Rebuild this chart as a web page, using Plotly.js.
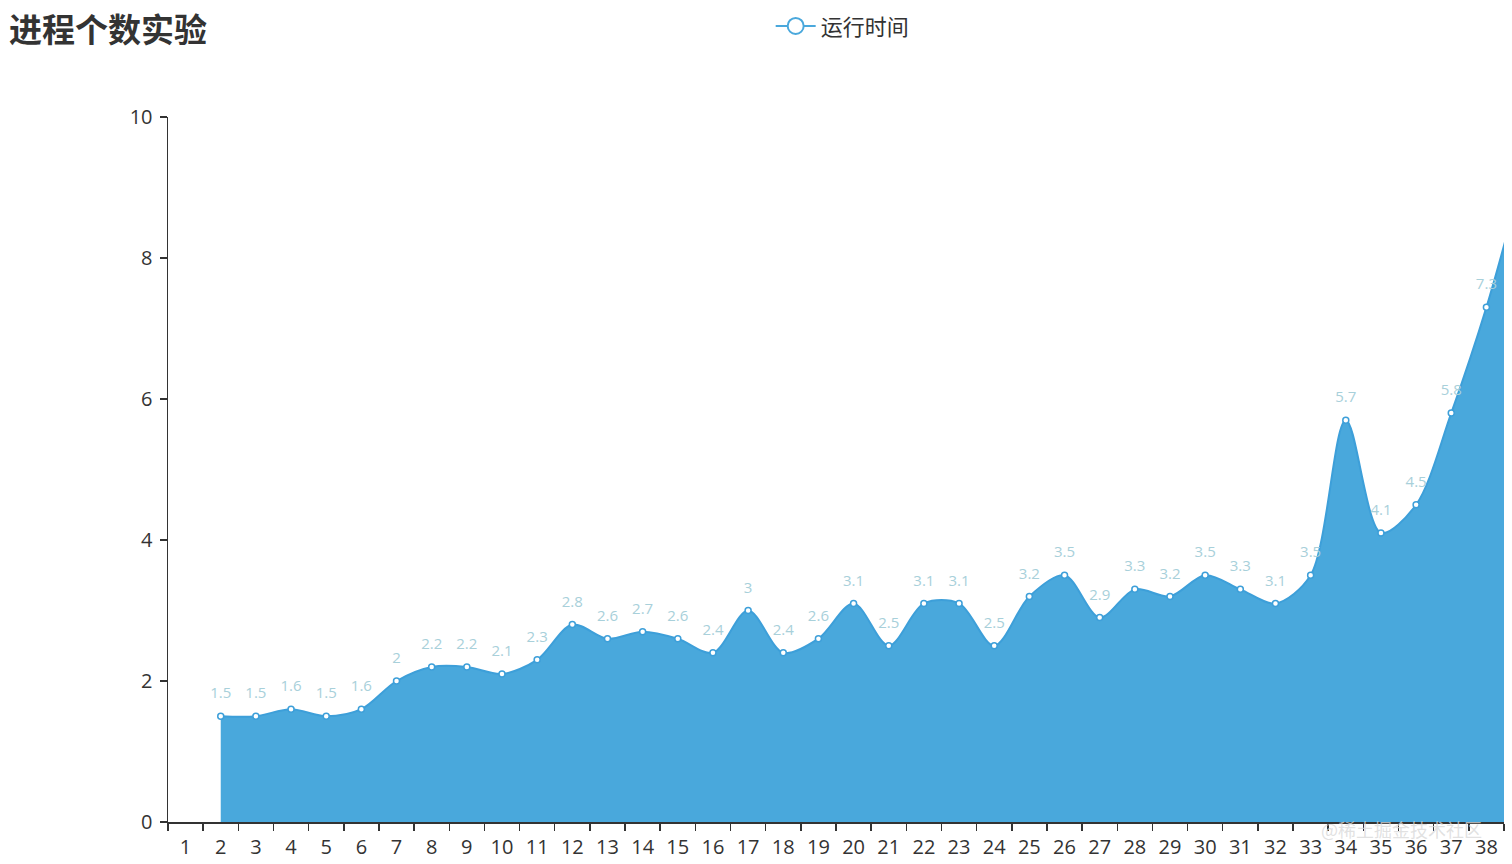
<!DOCTYPE html>
<html>
<head>
<meta charset="utf-8">
<script src="https://cdn.plot.ly/plotly-3.0.1.min.js"></script>
<style>html,body{margin:0;padding:0;background:#fff;overflow:hidden}#chart{width:1512px;height:864px}</style>
</head>
<body>
<div id="chart"></div>
<script>
// Category labels on the x axis (the last one lies beyond the cropped edge)
const categories = ["1","2","3","4","5","6","7","8","9","10","11","12","13","14","15","16","17","18","19","20","21","22","23","24","25","26","27","28","29","30","31","32","33","34","35","36","37","38","39"];
// Process counts that have a measured value
const processCounts = ["2","3","4","5","6","7","8","9","10","11","12","13","14","15","16","17","18","19","20","21","22","23","24","25","26","27","28","29","30","31","32","33","34","35","36","37","38","39"];
// 运行时间 values
const runTimes = [1.5,1.5,1.6,1.5,1.6,2,2.2,2.2,2.1,2.3,2.8,2.6,2.7,2.6,2.4,3,2.4,2.6,3.1,2.5,3.1,3.1,2.5,3.2,3.5,2.9,3.3,3.2,3.5,3.3,3.1,3.5,5.7,4.1,4.5,5.8,7.3,9.1];
const yTicks = [0,2,4,6,8,10];

const numFont = '"Open Sans","Noto Sans CJK SC",sans-serif';
const cjkFont = '"Noto Sans CJK SC",sans-serif';
const blue = '#3d9fd9';

const areaTrace = {
  type: 'scatter',
  mode: 'lines+markers',
  name: '运行时间',
  showlegend: false,
  x: processCounts,
  y: runTimes,
  line: {shape: 'spline', smoothing: 0.9, color: blue, width: 2},
  marker: {symbol: 'circle', size: 6, color: '#ffffff', line: {color: blue, width: 1.5}},
  fill: 'tozeroy',
  fillcolor: 'rgb(73,168,220)',
  cliponaxis: true,
  hoverinfo: 'x+y'
};

// value labels, lifted above each point by an invisible larger marker
const labelTrace = {
  type: 'scatter',
  mode: 'markers+text',
  showlegend: false,
  x: processCounts,
  y: runTimes,
  text: runTimes.map(String),
  textposition: 'top center',
  textfont: {family: numFont, size: 15, color: '#a8d0da'},
  marker: {size: 21, color: 'rgba(0,0,0,0)', line: {width: 0}},
  cliponaxis: true,
  hoverinfo: 'skip'
};

// legend-only entry (line with hollow circle, as in the reference)
const legendTrace = {
  type: 'scatter',
  mode: 'lines+markers',
  name: '运行时间',
  x: [null],
  y: [null],
  line: {color: '#4aa8dc', width: 2},
  marker: {symbol: 'circle', size: 16, color: '#ffffff', line: {color: '#4aa8dc', width: 2}},
  showlegend: true,
  hoverinfo: 'skip'
};

const layout = {
  width: 1512,
  height: 864,
  margin: {l: 168, r: 8, t: 117, b: 42, autoexpand: false},
  paper_bgcolor: '#ffffff',
  plot_bgcolor: '#ffffff',
  title: {
    text: '<b>进程个数实验</b>',
    x: 0.006, xanchor: 'left', xref: 'container',
    y: 0.965, yanchor: 'middle', yref: 'container',
    font: {family: cjkFont, size: 33, color: '#333333'}
  },
  showlegend: true,
  legend: {
    orientation: 'h',
    x: 0.505, xanchor: 'center', xref: 'paper',
    y: 0.994, yanchor: 'top', yref: 'container',
    font: {family: cjkFont, size: 22, color: '#333333'},
    bgcolor: 'rgba(0,0,0,0)',
    itemsizing: 'trace',
    itemwidth: 40
  },
  xaxis: {
    type: 'category',
    categoryorder: 'array',
    categoryarray: categories,
    range: [-0.5, 37.5],
    tickson: 'boundaries',
    ticks: 'outside',
    ticklen: 7,
    tickwidth: 1.5,
    tickcolor: '#333333',
    ticklabelstandoff: 6,
    showline: true,
    linecolor: '#333333',
    linewidth: 1.5,
    showgrid: false,
    zeroline: false,
    tickfont: {family: numFont, size: 20, color: '#333333'},
    fixedrange: true
  },
  yaxis: {
    range: [0, 10],
    tickvals: yTicks,
    ticktext: yTicks.map(String),
    ticks: 'outside',
    ticklen: 7,
    tickwidth: 1.5,
    tickcolor: '#333333',
    ticklabelstandoff: 3,
    showline: true,
    linecolor: '#333333',
    linewidth: 1.5,
    showgrid: false,
    zeroline: false,
    tickfont: {family: numFont, size: 20, color: '#333333'},
    fixedrange: true
  },
  annotations: [{
    text: '@稀土掘金技术社区',
    xref: 'paper', yref: 'paper',
    x: 0.985, y: -0.01, xanchor: 'right', yanchor: 'middle',
    showarrow: false,
    font: {family: cjkFont, size: 18, color: 'rgba(215,215,215,0.75)'}
  }]
};

Plotly.newPlot('chart', [areaTrace, labelTrace, legendTrace], layout, {displayModeBar: false, staticPlot: true});
</script>
</body>
</html>
